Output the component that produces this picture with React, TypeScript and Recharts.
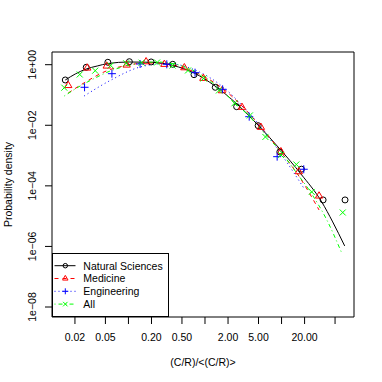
import React from 'react';
import { ComposedChart, Line, Scatter, XAxis, YAxis, Legend, ReferenceArea } from 'recharts';

const FONT = '"Liberation Sans", Arial, Helvetica, sans-serif';

// binned points (x = (C/R)/<(C/R)>, y = probability density)
const natSciX = [0.01496, 0.0281, 0.0538, 0.1028, 0.1977, 0.379, 0.719, 1.362, 2.59, 4.95, 9.5, 18.2, 34.9, 67.5];
const natSciY = [0.313, 0.82, 1.2, 1.256, 1.23, 1.03, 0.468, 0.1795, 0.0411, 0.0097, 0.00132, 0.000355, 3.43e-5, 3.43e-5];

const medX = [0.01636, 0.029, 0.052, 0.0948, 0.17, 0.2946, 0.537, 0.951, 1.666, 3.04, 5.37, 9.8, 16.8, 30.9];
const medY = [0.206, 0.778, 0.906, 0.977, 1.256, 1.03, 0.796, 0.356, 0.1387, 0.0393, 0.00859, 0.001345, 0.000294, 4.64e-5];

const engX = [0.0267, 0.0608, 0.142, 0.317, 0.741, 1.7, 3.78, 8.76, 19.5];
const engY = [0.1795, 0.505, 1.055, 1.03, 0.545, 0.154, 0.0192, 0.00092, 0.000353];

const allX = [0.01452, 0.0231, 0.0368, 0.0586, 0.0933, 0.1486, 0.2366, 0.377, 0.6, 0.955, 1.522, 2.425, 3.86, 6.15, 9.8, 15.6, 24.8, 63];
const allY = [0.174, 0.475, 0.634, 0.94, 1.112, 1.164, 1.18, 0.94, 0.644, 0.351, 0.141, 0.0532, 0.0211, 0.00411, 0.00105, 0.000508, 6.3e-5, 1.32e-5];

// fitted curves
const natSciFitX = [0.01496, 0.0202, 0.0281, 0.0391, 0.0543, 0.1021, 0.1977, 0.383, 0.719, 1.35, 2.61, 4.91, 9.5, 17.9, 33.5, 46.6, 66.8];
const natSciFitY = [0.313, 0.493, 0.721, 0.906, 1.096, 1.228, 1.2, 0.941, 0.532, 0.198, 0.0504, 0.01023, 0.00165, 0.000247, 2.94e-5, 6.44e-6, 1.04e-6];

const medFitX = [0.01636, 0.029, 0.0512, 0.0933, 0.17, 0.2917, 0.532, 0.942, 1.666, 3.04, 5.37, 9.8, 16.8, 30.9];
const medFitY = [0.1164, 0.29, 0.619, 0.941, 1.138, 1.096, 0.778, 0.424, 0.17, 0.0434, 0.00879, 0.00132, 0.000212, 1.6e-5];

const engFitX = [0.0264, 0.0594, 0.142, 0.32, 0.741, 1.717, 3.75, 8.68, 19.5];
const engFitY = [0.0927, 0.313, 0.839, 1.096, 0.668, 0.1837, 0.0255, 0.00178, 8.5e-5];

const allFitX = [0.01452, 0.0234, 0.0368, 0.0577, 0.0933, 0.1465, 0.2366, 0.3715, 0.6, 0.942, 1.522, 2.39, 3.86, 6.06, 9.8, 15.4, 24.8, 39.0, 61.1];
const allFitY = [0.0927, 0.198, 0.364, 0.619, 0.906, 1.138, 1.228, 1.096, 0.778, 0.424, 0.17, 0.0587, 0.0188, 0.00516, 0.00132, 0.000288, 5.4e-5, 7.5e-6, 6.1e-7];

const xTicks = [0.02, 0.05, 0.1, 0.2, 0.5, 1, 2, 5, 10, 20, 50];
const xTickLabels = ['0.02', '0.05', '', '0.20', '0.50', '', '2.00', '5.00', '', '20.00', ''];
const yTicks = [1, 1e-2, 1e-4, 1e-6, 1e-8];
const yTickLabels = ['1e+00', '1e\u221202', '1e\u221204', '1e\u221206', '1e\u221208'];

const xDomain = [0.01003, 88.4];
const yDomain = [4.68e-9, 2.624];

const toPoints = (xs: number[], ys: number[]) => xs.map((x, i) => ({ x, y: ys[i] }));

const series = [
  { name: 'Natural Sciences', color: '#000000', dash: undefined, marker: 'circle', pts: toPoints(natSciX, natSciY), fit: toPoints(natSciFitX, natSciFitY) },
  { name: 'Medicine', color: '#FF0000', dash: '4 4', marker: 'triangle', pts: toPoints(medX, medY), fit: toPoints(medFitX, medFitY) },
  { name: 'Engineering', color: '#0000FF', dash: '1 3', marker: 'plus', pts: toPoints(engX, engY), fit: toPoints(engFitX, engFitY) },
  { name: 'All', color: '#00FF00', dash: '1 3 4 3', marker: 'cross', pts: toPoints(allX, allY), fit: toPoints(allFitX, allFitY) },
];

const drawMarker = (kind: string, cx: number, cy: number, color: string, s = 1) => {
  if (kind === 'circle') return <circle cx={cx} cy={cy} r={3 * s} fill="none" stroke={color} strokeWidth={1} />;
  if (kind === 'triangle') {
    const p = `${cx},${cy - 4.2 * s} ${cx - 3.65 * s},${cy + 2.1 * s} ${cx + 3.65 * s},${cy + 2.1 * s}`;
    return <polygon points={p} fill="none" stroke={color} strokeWidth={1} />;
  }
  if (kind === 'plus') {
    return (
      <g stroke={color} strokeWidth={1}>
        <line x1={cx - 4 * s} y1={cy} x2={cx + 4 * s} y2={cy} />
        <line x1={cx} y1={cy - 4 * s} x2={cx} y2={cy + 4 * s} />
      </g>
    );
  }
  return (
    <g stroke={color} strokeWidth={1}>
      <line x1={cx - 3 * s} y1={cy - 3 * s} x2={cx + 3 * s} y2={cy + 3 * s} />
      <line x1={cx - 3 * s} y1={cy + 3 * s} x2={cx + 3 * s} y2={cy - 3 * s} />
    </g>
  );
};

const XTick = (props: any) => {
  const { x, y, payload } = props;
  const label = xTickLabels[xTicks.indexOf(payload.value)] ?? '';
  return (
    <text x={x} y={y + 16.5} textAnchor="middle" fontSize={10.5} fontFamily={FONT} fill="#000">{label}</text>
  );
};

const YTick = (props: any) => {
  const { x, y, payload } = props;
  const label = yTickLabels[yTicks.indexOf(payload.value)] ?? '';
  const tx = x - 8.5;
  return (
    <text x={tx} y={y} transform={`rotate(-90, ${tx}, ${y})`} textAnchor="middle" fontSize={10.5} fontFamily={FONT} fill="#000">{label}</text>
  );
};

const renderLegend = () => (
  <svg width={117} height={64} style={{ display: 'block' }}>
    <rect x={0.5} y={0.5} width={116} height={63} fill="#fff" stroke="#000" strokeWidth={1} />
    {series.map((s, i) => {
      const cy = 12.7 + i * 12.8;
      return (
        <g key={s.name}>
          <line x1={2.5} y1={cy} x2={23.5} y2={cy} stroke={s.color} strokeDasharray={s.dash} strokeWidth={1} />
          {drawMarker(s.marker, 13.3, cy, s.color, 0.75)}
          <text x={31.3} y={cy + 3.8} fontSize={10.5} fontFamily={FONT} fill="#000">{s.name}</text>
        </g>
      );
    })}
  </svg>
);

export default function App() {
  return (
    <div style={{ width: 382, height: 382, background: '#fff' }}>
      <style>{`body { margin: 0; }`}</style>
      <ComposedChart width={382} height={382} margin={{ top: 52, right: 28, bottom: 0, left: 0 }}>
        <XAxis
          dataKey="x" type="number" scale="log" domain={xDomain} allowDataOverflow
          ticks={xTicks} interval={0} tick={<XTick />} tickSize={7} tickMargin={0}
          tickLine={{ stroke: '#000' }} axisLine={false} height={65}
          label={(p: any) => {
            const vb = p.viewBox ?? { x: 52, y: 317, width: 302 };
            return <text x={vb.x + vb.width / 2} y={vb.y + 49} textAnchor="middle" fontSize={10.5} fontFamily={FONT} fill="#000">(C/R)/&lt;(C/R)&gt;</text>;
          }}
        />
        <YAxis
          dataKey="y" type="number" scale="log" domain={yDomain} allowDataOverflow
          ticks={yTicks} interval={0} tick={<YTick />} tickSize={7} tickMargin={0}
          tickLine={{ stroke: '#000' }} axisLine={false} width={52}
          label={(p: any) => {
            const vb = p.viewBox ?? { x: 0, y: 52, height: 265 };
            const tx = 12;
            const ty = vb.y + vb.height / 2;
            return <text x={tx} y={ty} transform={`rotate(-90, ${tx}, ${ty})`} textAnchor="middle" fontSize={10.5} fontFamily={FONT} fill="#000">Probability density</text>;
          }}
        />
        <ReferenceArea x1={xDomain[0]} x2={xDomain[1]} y1={yDomain[0]} y2={yDomain[1]} fill="none" fillOpacity={0} stroke="#000" strokeWidth={1} ifOverflow="visible" />
        {series.map((s) => (
          <Scatter
            key={s.name + '-pts'} name={s.name} data={s.pts} dataKey="y" isAnimationActive={false}
            shape={(p: any) => drawMarker(s.marker, p.cx, p.cy, s.color)}
          />
        ))}
        {series.map((s) => (
          <Line
            key={s.name + '-fit'} data={s.fit} dataKey="y" type="monotone" stroke={s.color} strokeWidth={1}
            strokeDasharray={s.dash} dot={false} activeDot={false} isAnimationActive={false} legendType="none"
          />
        ))}
        <Legend
          layout="vertical" align="center" verticalAlign="middle" content={renderLegend}
          wrapperStyle={{ position: 'absolute', left: 52, top: 253, width: 117, height: 64, bottom: 'auto', right: 'auto' }}
        />
      </ComposedChart>
    </div>
  );
}
